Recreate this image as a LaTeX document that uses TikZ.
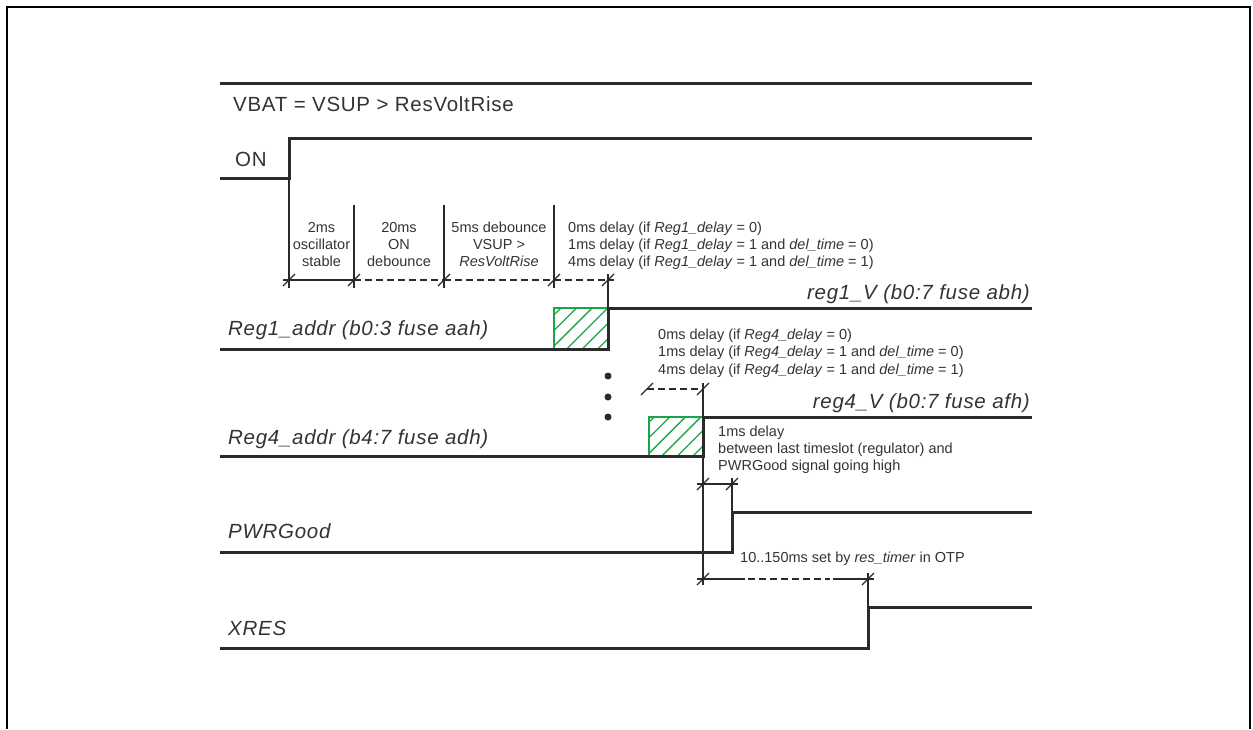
\documentclass[tikz,border=0pt]{standalone}
\usepackage{fontspec}
\setmainfont{Liberation Sans}
\newfontfamily\bigfont[LetterSpace=3.5]{Liberation Sans}
\usetikzlibrary{patterns.meta}
\definecolor{ink}{HTML}{2A2A2A}
\definecolor{txt}{HTML}{333333}
\definecolor{hatchgreen}{HTML}{1BA548}
\newcommand\dimtick[1]{\draw[ink,line width=1.2pt] (#1) ++(-6,6) -- ++(12,-12);}
\begin{document}
\begin{tikzpicture}[x=1pt,y=-1pt,
  sig/.style={draw=ink,line width=3pt,line join=miter,line cap=butt},
  dimv/.style={draw=ink,line width=1.3pt},
  diml/.style={draw=ink,line width=1.2pt},
  dimd/.style={diml,dash pattern=on 7pt off 4pt},
  big/.style={font=\bigfont\fontsize{20.5}{23}\selectfont,text=txt,inner sep=0pt,anchor=base west},
  bigit/.style={big,font=\bigfont\fontsize{20.5}{23}\selectfont\itshape},
  smallc/.style={font=\fontsize{14.5}{17}\selectfont,text=txt,inner sep=0pt,anchor=base},
  smalll/.style={smallc,anchor=base west},
  hatchfill/.style={pattern={Lines[angle=45,distance=11pt,line width=1.3pt]},pattern color=hatchgreen},
  hatchedge/.style={draw=hatchgreen,line width=2pt},
  dot/.style={circle,fill=ink,inner sep=0pt,minimum size=7pt}]
\useasboundingbox (0,0) rectangle (1253,729);
% frame
\draw[black,line width=2pt] (7,729) -- (7,7) -- (1250,7) -- (1250,729);

% ---- signal coordinates
\coordinate (vb0) at (220,83);  \coordinate (vb1) at (1032,83);
\coordinate (on0) at (220,178); \coordinate (on1) at (289,178); \coordinate (on2) at (289,138); \coordinate (on3) at (1032,138);
\coordinate (ra0) at (220,349); \coordinate (ra1) at (608,349); \coordinate (ra2) at (608,308); \coordinate (ra3) at (1032,308);
\coordinate (rb0) at (220,456); \coordinate (rb1) at (703,456); \coordinate (rb2) at (703,417); \coordinate (rb3) at (1032,417);
\coordinate (pg0) at (220,552); \coordinate (pg1) at (732,552); \coordinate (pg2) at (732,512); \coordinate (pg3) at (1032,512);
\coordinate (xr0) at (220,648); \coordinate (xr1) at (868,648); \coordinate (xr2) at (868,607); \coordinate (xr3) at (1032,607);

% hatched boxes
\fill[hatchfill] (554,308) rectangle (608,349);
\draw[hatchedge] (608,308) -- (554,308) -- (554,349) -- (608,349);
\fill[hatchfill] (649,417) rectangle (703,456);
\draw[hatchedge] (703,417) -- (649,417) -- (649,456) -- (703,456);

% signals
\draw[sig] (vb0) -- (vb1);
\draw[sig] (on0) -- (on1) -- (on2) -- (on3);
\draw[sig] (ra0) -- (ra1) -- (ra2) -- (ra3);
\draw[sig] (rb0) -- (rb1) -- (rb2) -- (rb3);
\draw[sig] (pg0) -- (pg1) -- (pg2) -- (pg3);
\draw[sig] (xr0) -- (xr1) -- (xr2) -- (xr3);

% labels
\node[big] (lvbat) at (233,111) {VBAT = VSUP > ResVoltRise};
\node[big] (lon) at (235,166) {ON};
\node[bigit] (lreg1) at (228,335) {Reg1\_addr (b0:3 fuse aah)};
\node[bigit,anchor=base east] (lreg1v) at (1030,299) {reg1\_V (b0:7 fuse abh)};
\node[bigit] (lreg4) at (228,444) {Reg4\_addr (b4:7 fuse adh)};
\node[bigit,anchor=base east] (lreg4v) at (1030,408) {reg4\_V (b0:7 fuse afh)};
\node[bigit] (lpg) at (228,538) {PWRGood};
\node[bigit] (lxres) at (228,635) {XRES};

% first dimension chain
\coordinate (d0) at (289,280); \coordinate (d1) at (354,280); \coordinate (d2) at (444,280);
\coordinate (d3) at (554,280); \coordinate (d4) at (608,280);
\draw[dimv] (on1) -- (289,288);
\draw[dimv] (354,205) -- (354,288);
\draw[dimv] (444,205) -- (444,288);
\draw[dimv] (554,205) -- (554,288);
\draw[dimv] (608,274) -- (ra2);
\draw[diml] (283,280) -- (d1);
\draw[dimd] (d1) -- (d2);
\draw[dimd] (d2) -- (d3);
\draw[dimd] (d3) -- (614,280);
\dimtick{d0}\dimtick{d1}\dimtick{d2}\dimtick{d3}\dimtick{d4}

\node[smallc] (c1a) at (321.5,232) {2ms};
\node[smallc] (c1b) at (321.5,249) {oscillator};
\node[smallc] (c1c) at (321.5,266) {stable};
\node[smallc] (c2a) at (399,232) {20ms};
\node[smallc] (c2b) at (399,249) {ON};
\node[smallc] (c2c) at (399,266) {debounce};
\node[smallc] (c3a) at (499,232) {5ms debounce};
\node[smallc] (c3b) at (499,249) {VSUP >};
\node[smallc] (c3c) at (499,266) {\itshape ResVoltRise};
\node[smalll] (t1a) at (568,232) {0ms delay (if \textit{Reg1\_delay} = 0)};
\node[smalll] (t1b) at (568,249) {1ms delay (if \textit{Reg1\_delay} = 1 and \textit{del\_time} = 0)};
\node[smalll] (t1c) at (568,266) {4ms delay (if \textit{Reg1\_delay} = 1 and \textit{del\_time} = 1)};

% dots
\node[dot] (dt1) at (608,376) {};
\node[dot] (dt2) at (608,397) {};
\node[dot] (dt3) at (608,417) {};

% reg4 dimension
\coordinate (e0) at (647,389); \coordinate (e1) at (703,389);
\draw[dimd] (e0) -- (e1);
\dimtick{e0}\dimtick{e1}
\draw[dimv] (703,383) -- (703,585);
\node[smalll] (t4a) at (658,339) {0ms delay (if \textit{Reg4\_delay} = 0)};
\node[smalll] (t4b) at (658,356.5) {1ms delay (if \textit{Reg4\_delay} = 1 and \textit{del\_time} = 0)};
\node[smalll] (t4c) at (658,374) {4ms delay (if \textit{Reg4\_delay} = 1 and \textit{del\_time} = 1)};

\node[smalll] (tpa) at (718,436) {1ms delay};
\node[smalll] (tpb) at (718,453) {between last timeslot (regulator) and};
\node[smalll] (tpc) at (718,470) {PWRGood signal going high};

% pwrgood dimension
\coordinate (f0) at (703,484); \coordinate (f1) at (732,484);
\draw[diml] (697,484) -- (738,484);
\dimtick{f0}\dimtick{f1}
\draw[dimv] (732,478) -- (pg2);

% xres dimension
\coordinate (g0) at (703,579); \coordinate (g1) at (868,579);
\draw[diml] (697,579) -- (745,579);
\draw[dimd] (748,579) -- (830,579);
\draw[diml] (833,579) -- (874,579);
\dimtick{g0}\dimtick{g1}
\draw[dimv] (868,573) -- (xr2);
\node[smalll] (tx) at (740,562) {10..150ms set by \textit{res\_timer} in OTP};
\end{tikzpicture}
\end{document}
